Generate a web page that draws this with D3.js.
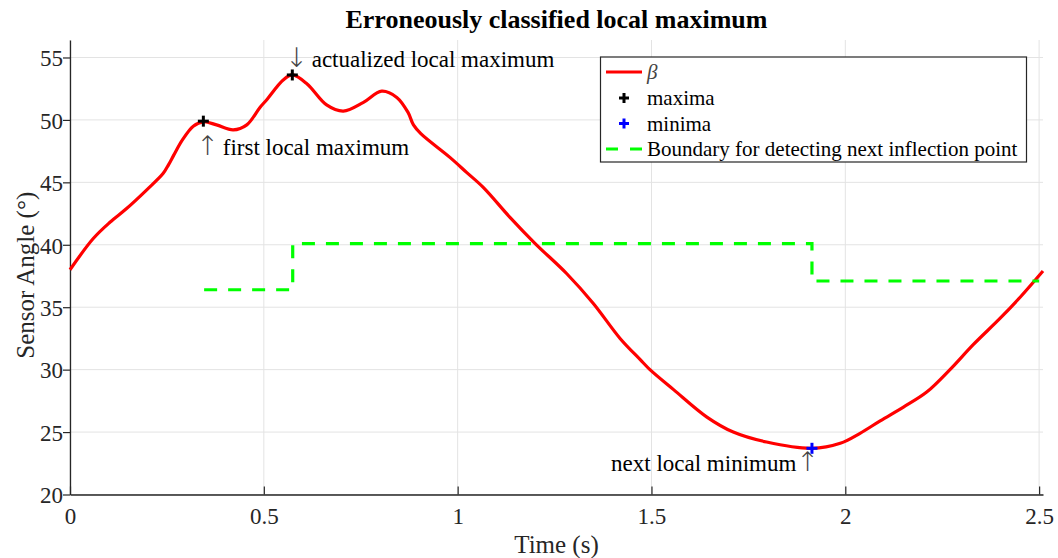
<!DOCTYPE html>
<html>
<head>
<meta charset="utf-8">
<script src="https://cdn.jsdelivr.net/npm/d3@7"></script>
<style>
  body { margin: 0; background: #fff; }
  text { font-family: "Liberation Serif", "Times New Roman", serif; }
</style>
</head>
<body>
<div id="chart"></div>
<script>
// sensor angle beta over time
const timeValues = [0, 0.060, 0.103, 0.146, 0.198, 0.240, 0.254, 0.268, 0.290, 0.318, 0.344, 0.378, 0.421, 0.456,
    0.490, 0.507, 0.550, 0.5735, 0.611, 0.662, 0.705, 0.757, 0.804, 0.843, 0.872, 0.886, 0.905, 0.980, 1.023,
    1.066, 1.135, 1.200, 1.281, 1.350, 1.419, 1.471, 1.496, 1.557, 1.643, 1.711, 1.797, 1.914,
    1.987, 2.038, 2.090, 2.150, 2.210, 2.270, 2.330, 2.399, 2.451, 2.510];
const betaValues = [38.0, 40.5, 41.8, 42.9, 44.4, 45.7, 46.4, 47.2, 48.4, 49.5, 49.85, 49.6, 49.2, 49.6,
    51.0, 51.6, 53.2, 53.6, 52.9, 51.2, 50.7, 51.4, 52.3, 51.8, 50.6, 49.6, 48.9, 47.0, 45.8,
    44.6, 42.2, 40.1, 37.7, 35.3, 32.5, 30.8, 30.0, 28.4, 26.2, 25.0, 24.2, 23.7,
    24.1, 24.9, 25.9, 27.0, 28.2, 30.0, 32.0, 34.1, 35.8, 37.9];

const maximaTime = [0.344, 0.5735];
const maximaValue = [49.9, 53.6];
const minimaTime = [1.914];
const minimaValue = [23.7];

const boundaryTime = [0.346, 0.5745, 0.5745, 1.914, 1.914, 2.5];
const boundaryValue = [36.4, 36.4, 40.1, 40.1, 37.1, 37.1];

const xTicks = [0, 0.5, 1, 1.5, 2, 2.5];
const yTicks = [20, 25, 30, 35, 40, 45, 50, 55];

const width = 1058, height = 558;
const margin = {left: 70, right: 15, top: 40, bottom: 63.5};

const svg = d3.select('#chart').append('svg')
    .attr('width', width)
    .attr('height', height);

const xScale = d3.scaleLinear().domain([0, 2.51]).range([margin.left, width - margin.right]);
const yScale = d3.scaleLinear().domain([20, 56.4]).range([height - margin.bottom, margin.top]);

const axisColor = '#262626';

// grid
svg.append('g').selectAll('line').data(xTicks).join('line')
    .attr('x1', d => xScale(d)).attr('x2', d => xScale(d))
    .attr('y1', yScale.range()[0]).attr('y2', yScale.range()[1])
    .attr('stroke', '#e3e3e3').attr('stroke-width', 1);
svg.append('g').selectAll('line').data(yTicks).join('line')
    .attr('x1', xScale.range()[0]).attr('x2', xScale.range()[1])
    .attr('y1', d => yScale(d)).attr('y2', d => yScale(d))
    .attr('stroke', '#e3e3e3').attr('stroke-width', 1);

// axes
const xAxis = d3.axisBottom(xScale).tickValues(xTicks).tickSizeInner(-8).tickSizeOuter(0)
    .tickPadding(13).tickFormat(d3.format('~g'));
const yAxis = d3.axisLeft(yScale).tickValues(yTicks).tickSizeInner(7).tickSizeOuter(0)
    .tickPadding(0);

const gx = svg.append('g')
    .attr('transform', `translate(0,${yScale.range()[0]})`)
    .call(xAxis);
const gy = svg.append('g')
    .attr('transform', `translate(${margin.left},0)`)
    .call(yAxis);

[gx, gy].forEach(g => {
    g.attr('font-family', null);
    g.select('.domain').attr('stroke', axisColor).attr('stroke-width', 1.3);
    g.selectAll('.tick line').attr('stroke', axisColor).attr('stroke-width', 1.2);
    g.selectAll('.tick text').attr('fill', axisColor)
        .style('font-family', '"Liberation Serif", serif').style('font-size', '23px');
});
gy.selectAll('.tick text').attr('dy', '0.36em');

// beta line
const line = d3.line()
    .x((d, i) => xScale(timeValues[i]))
    .y(d => yScale(d))
    .curve(d3.curveCatmullRom.alpha(0.5));

svg.append('path')
    .datum(betaValues)
    .attr('d', line)
    .attr('fill', 'none')
    .attr('stroke', '#ff0000')
    .attr('stroke-width', 3.2)
    .attr('stroke-linejoin', 'round');

// boundary
const boundaryLine = d3.line()
    .x((d, i) => xScale(boundaryTime[i]))
    .y(d => yScale(d));

svg.append('path')
    .datum(boundaryValue)
    .attr('d', boundaryLine)
    .attr('fill', 'none')
    .attr('stroke', '#00ff00')
    .attr('stroke-width', 3.2)
    .attr('stroke-dasharray', '13,11');

// markers
function plus(g, x, y, color, s) {
    g.append('line').attr('x1', x - s).attr('x2', x + s).attr('y1', y).attr('y2', y)
        .attr('stroke', color).attr('stroke-width', 3);
    g.append('line').attr('x1', x).attr('x2', x).attr('y1', y - s).attr('y2', y + s)
        .attr('stroke', color).attr('stroke-width', 3);
}
const markers = svg.append('g');
maximaTime.forEach((t, i) => plus(markers, xScale(t), yScale(maximaValue[i]), '#000', 5.5));
minimaTime.forEach((t, i) => plus(markers, xScale(t), yScale(minimaValue[i]), '#0000ff', 5.5));

// annotations (arrow glyph drawn larger and grey like the original)
const ann = svg.append('g').style('font-size', '23px').attr('fill', '#000');
function annotate(x, y, anchor, before, arrow, after) {
    const t = ann.append('text').attr('x', x).attr('y', y).attr('text-anchor', anchor);
    if (before) t.append('tspan').text(before);
    t.append('tspan').attr('fill', '#444')
        .style('font-family', '"DejaVu Sans", sans-serif')
        .style('font-size', '27px').style('font-weight', '200')
        .text(arrow);
    if (after) t.append('tspan').attr('dx', -2).text(after);
}
annotate(xScale(maximaTime[0]) - 7, yScale(maximaValue[0]) + 34, 'start', null, '\u2191', ' first local maximum');
annotate(xScale(maximaTime[1]) - 7, yScale(maximaValue[1]) - 8, 'start', null, '\u2193', ' actualized local maximum');
annotate(xScale(minimaTime[0]) + 7, yScale(minimaValue[0]) + 23, 'end', 'next local minimum', '\u2191', null);

// title and labels
svg.append('text')
    .attr('x', (xScale.range()[0] + xScale.range()[1]) / 2)
    .attr('y', 28)
    .attr('text-anchor', 'middle')
    .style('font-size', '26px')
    .style('font-weight', 'bold')
    .text('Erroneously classified local maximum');

svg.append('text')
    .attr('x', (xScale.range()[0] + xScale.range()[1]) / 2)
    .attr('y', 553)
    .attr('text-anchor', 'middle')
    .attr('fill', axisColor)
    .style('font-size', '25px')
    .text('Time (s)');

svg.append('text')
    .attr('transform', `translate(34,${(yScale.range()[0] + yScale.range()[1]) / 2 + 8}) rotate(-90)`)
    .attr('text-anchor', 'middle')
    .attr('fill', axisColor)
    .style('font-size', '25px')
    .text('Sensor Angle (\u00b0)');

// legend
const legend = svg.append('g');
legend.append('rect')
    .attr('x', 600.5).attr('y', 57)
    .attr('width', 426).attr('height', 105)
    .attr('fill', '#fff')
    .attr('stroke', axisColor).attr('stroke-width', 1.2);

const legendRows = [
    {label: '\u03b2', kind: 'line', y: 72, italic: true},
    {label: 'maxima', kind: 'plus', color: '#000', y: 98},
    {label: 'minima', kind: 'plus', color: '#0000ff', y: 123.5},
    {label: 'Boundary for detecting next inflection point', kind: 'dash', y: 149}
];
legendRows.forEach(r => {
    if (r.kind === 'line') {
        legend.append('line').attr('x1', 606).attr('x2', 642).attr('y1', r.y).attr('y2', r.y)
            .attr('stroke', '#ff0000').attr('stroke-width', 3.2);
    } else if (r.kind === 'dash') {
        legend.append('line').attr('x1', 606).attr('x2', 642).attr('y1', r.y).attr('y2', r.y)
            .attr('stroke', '#00ff00').attr('stroke-width', 3.2)
            .attr('stroke-dasharray', '12,12');
    } else {
        plus(legend, 624, r.y, r.color, 5);
    }
    legend.append('text')
        .attr('x', 647).attr('y', r.y + 7)
        .style('font-size', '21px')
        .style('font-style', r.italic ? 'italic' : 'normal')
        .attr('fill', r.italic ? '#444' : '#000')
        .text(r.label);
});
</script>
</body>
</html>
